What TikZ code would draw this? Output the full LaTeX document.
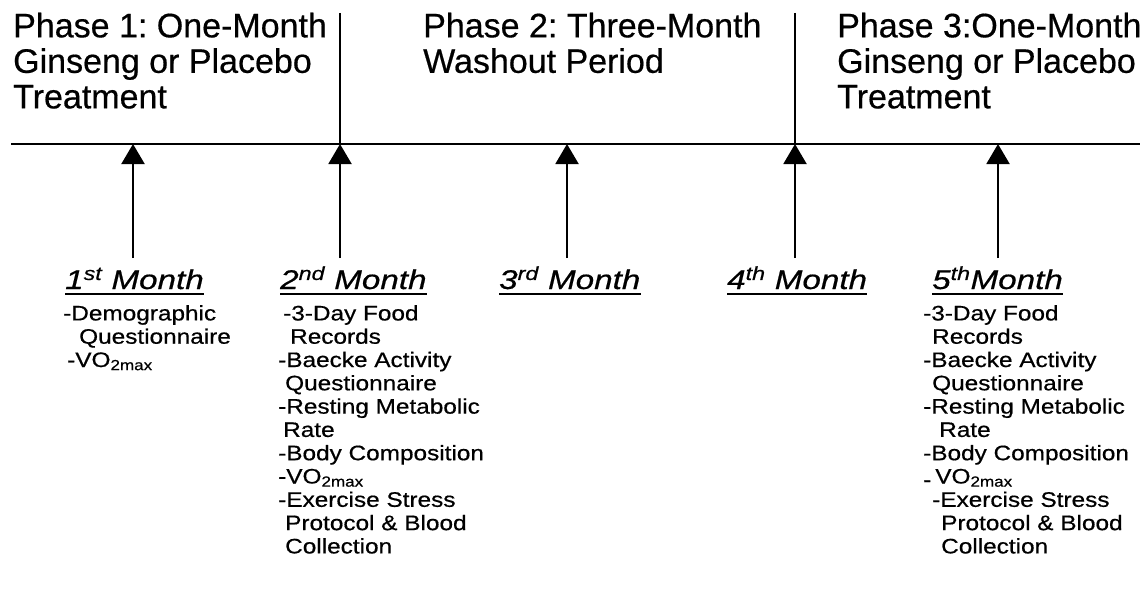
\documentclass[tikz,border=0pt]{standalone}
\usepackage{fontspec}
\setmainfont[FakeBold=0.5]{Liberation Sans}
\newfontfamily\labelfont[FakeStretch=1.23,FakeBold=0.6]{Liberation Sans}
\newfontfamily\listfont[FakeStretch=1.16,FakeBold=0.6]{Liberation Sans}
\usetikzlibrary{arrows.meta}
\frenchspacing
\begin{document}
\begin{tikzpicture}[x=1pt,y=-1pt,
  head/.style={anchor=north west, inner sep=0pt, align=left, font=\fontsize{34}{35.5}\selectfont},
  mlabel/.style={anchor=base west, inner sep=0pt, font=\labelfont\fontsize{27}{30}\selectfont\itshape},
  items/.style={anchor=north west, inner sep=0pt, align=left, font=\listfont\fontsize{21}{23.3}\selectfont},
  rulestyle/.style={line width=2pt},
  uparrow/.style={line width=2pt, -{Triangle[length=20pt,width=23pt]}},
  uline/.style={line width=1.8pt}]
\useasboundingbox (0,0) rectangle (1145,602);
% headings
\node[head] (h1) at (13,12.5) {Phase 1: One-Month\\Ginseng or Placebo\\Treatment};
\node[head] (h2) at (423,12.5) {Phase 2: Three-Month\\Washout Period};
\node[head] (h3) at (837,12.5) {Phase 3:One-Month\\Ginseng or Placebo\\Treatment};
% timeline and dividers
\coordinate (L) at (11,144);
\coordinate (R) at (1140,144);
\draw[rulestyle] (L) -- (R);
\coordinate (d1t) at (340,13); \coordinate (d1b) at (340,144);
\coordinate (d2t) at (795,13); \coordinate (d2b) at (795,144);
\draw[rulestyle] (d1t) -- (d1b);
\draw[rulestyle] (d2t) -- (d2b);
% arrows
\foreach \i/\x in {1/133,2/340,3/567,4/795,5/998}{
  \coordinate (a\i) at (\x,258);
  \coordinate (t\i) at (\x,144);
  \draw[uparrow] (a\i) -- (t\i);
}
% month labels
\node[mlabel] (m1) at (65,289) {1\textsuperscript{st} Month};
\node[mlabel] (m2) at (280,289) {2\textsuperscript{nd} Month};
\node[mlabel] (m3) at (499,289) {3\textsuperscript{rd} Month};
\node[mlabel] (m4) at (727,289) {4\textsuperscript{th} Month};
\node[mlabel] (m5) at (932,289) {5\textsuperscript{th}Month};
\foreach \m in {m1,m2,m3,m4,m5}{
  \draw[uline] ([yshift=-5pt]\m.base west) -- ([yshift=-5pt]\m.base east);
}
% lists
\node[items] (l1) at (63,305) {-Demographic\\\hspace*{16pt}Questionnaire\\\hspace*{4pt}-VO\textsubscript{2max}};
\node[items] (l2) at (278,305) {\hspace*{5pt}-3-Day Food\\\hspace*{12pt}Records\\-Baecke Activity\\\hspace*{7pt}Questionnaire\\-Resting Metabolic\\\hspace*{5pt}Rate\\-Body Composition\\-VO\textsubscript{2max}\\-Exercise Stress\\\hspace*{7pt}Protocol \& Blood\\\hspace*{7pt}Collection};
\node[items] (l5) at (923,305) {-3-Day Food\\\hspace*{9pt}Records\\-Baecke Activity\\\hspace*{9pt}Questionnaire\\-Resting Metabolic\\\hspace*{16pt}Rate\\-Body Composition\\\raisebox{-0.3ex}{-}\hspace*{4pt}VO\textsubscript{2max}\\\hspace*{9pt}-Exercise Stress\\\hspace*{18pt}Protocol \& Blood\\\hspace*{18pt}Collection};
\end{tikzpicture}
\end{document}
